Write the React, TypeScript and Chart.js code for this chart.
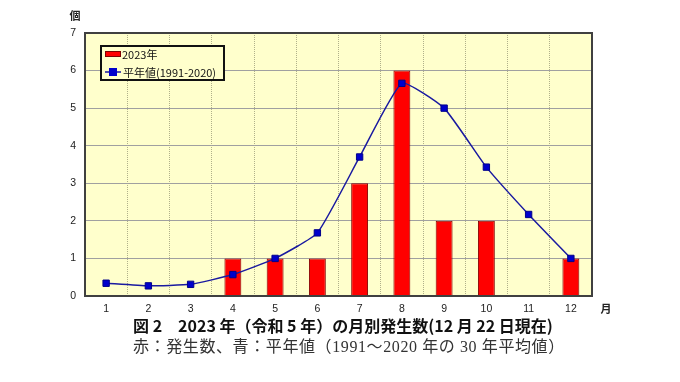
import React, { useEffect, useRef } from "react";
import { Chart, registerables } from "chart.js";

Chart.register(...registerables);

const months = ["1", "2", "3", "4", "5", "6", "7", "8", "9", "10", "11", "12"];
const counts2023 = [0, 0, 0, 1, 1, 1, 3, 6, 2, 2, 0, 1];
const normals = [0.34, 0.27, 0.31, 0.57, 1.0, 1.68, 3.7, 5.66, 5.0, 3.43, 2.17, 1.0];
const yTicks = [0, 1, 2, 3, 4, 5, 6, 7];
const seriesNames = ["2023年", "平年値(1991-2020)"];
const yUnit = "個";
const xUnit = "月";
const titleText = "図 2　2023 年（令和 5 年）の月別発生数(12 月 22 日現在)";
const subtitleText = "赤：発生数、青：平年値（1991〜2020 年の 30 年平均値）";

const tickFont = { family: "'Liberation Sans', Arial, 'Noto Sans CJK JP', sans-serif", size: 10.5 };

const framePlugin = {
  id: "frame",
  beforeDraw(chart: any) {
    const { ctx, chartArea: a } = chart;
    ctx.save();
    ctx.fillStyle = "#FFFFCC";
    ctx.fillRect(a.left, a.top, a.right - a.left, a.bottom - a.top);
    ctx.restore();
  },
  afterDraw(chart: any) {
    const { ctx, chartArea: a } = chart;
    ctx.save();
    ctx.strokeStyle = "#404040";
    ctx.lineWidth = 2;
    ctx.strokeRect(a.left, a.top, a.right - a.left, a.bottom - a.top);
    // unit labels
    ctx.fillStyle = "#222";
    ctx.font = "bold 11px 'Noto Sans CJK JP', sans-serif";
    ctx.textAlign = "center";
    ctx.textBaseline = "middle";
    ctx.fillText(yUnit, a.left - 10, a.top - 17);
    ctx.fillText(xUnit, a.right + 14, a.bottom + 13);
    // legend
    const lx = 101, ly = 46, lw = 123, lh = 34;
    ctx.fillStyle = "#FFFFCC";
    ctx.fillRect(lx, ly, lw, lh);
    ctx.strokeStyle = "#111";
    ctx.lineWidth = 2;
    ctx.strokeRect(lx, ly, lw, lh);
    ctx.font = "11px 'Noto Sans CJK JP', sans-serif";
    ctx.textAlign = "left";
    // bar swatch
    ctx.fillStyle = "#FF0000";
    ctx.fillRect(105, 51, 16, 6);
    ctx.strokeStyle = "#800000";
    ctx.lineWidth = 1;
    ctx.strokeRect(105.5, 51.5, 15, 5);
    ctx.fillStyle = "#111";
    ctx.fillText(seriesNames[0], 122, 54.5);
    // line swatch
    ctx.strokeStyle = "#1a1aa0";
    ctx.lineWidth = 1.5;
    ctx.beginPath();
    ctx.moveTo(105, 72);
    ctx.lineTo(121, 72);
    ctx.stroke();
    ctx.fillStyle = "#0000CC";
    ctx.fillRect(109, 68, 8, 8);
    ctx.fillStyle = "#111";
    ctx.fillText(seriesNames[1], 123, 72.5);
    ctx.restore();
  },
};

export default function App() {
  const ref = useRef<HTMLCanvasElement | null>(null);
  useEffect(() => {
    if (!ref.current) return;
    const chart = new Chart(ref.current, {
      type: "bar",
      data: {
        labels: months,
        datasets: [
          {
            type: "line",
            label: seriesNames[1],
            data: normals,
            borderColor: "#1a1aa0",
            borderWidth: 1.5,
            backgroundColor: "#0000CC",
            pointStyle: "rect",
            pointRadius: 4.5,
            pointBorderColor: "#00008a",
            pointBorderWidth: 1,
            pointBackgroundColor: "#0000CC",
            tension: 0.15,
            order: 0,
          } as any,
          {
            type: "bar",
            label: seriesNames[0],
            data: counts2023,
            backgroundColor: "#FF0000",
            borderColor: "#800000",
            borderWidth: 1,
            barPercentage: 0.4,
            categoryPercentage: 1,
            order: 1,
          },
        ],
      },
      options: {
        animation: false,
        responsive: false,
        maintainAspectRatio: false,
        layout: { padding: { left: 0, top: 33, right: 88, bottom: 56 } },
        plugins: { legend: { display: false }, tooltip: { enabled: false } },
        scales: {
          x: {
            offset: true,
            grid: { offset: true, color: "#b0b08a", lineWidth: 1, drawTicks: false },
            border: { display: false, dash: [1, 1] },
            ticks: { color: "#222", font: tickFont, padding: 7 },
            afterFit(scale: any) {
              scale.height = 30;
            },
          },
          y: {
            min: 0,
            max: 7,
            afterBuildTicks(scale: any) {
              scale.ticks = yTicks.map((v) => ({ value: v }));
            },
            grid: { color: "#a0a0a0", lineWidth: 1, drawTicks: false },
            border: { display: false },
            ticks: { color: "#222", font: tickFont, padding: 9 },
            afterFit(scale: any) {
              scale.width = 85;
            },
          },
        },
      },
      plugins: [framePlugin],
    });
    return () => chart.destroy();
  }, []);

  return (
    <div style={{ position: "fixed", left: 0, top: 0, width: 680, height: 382, background: "#fff" }}>
      <canvas ref={ref} width={680} height={382} style={{ position: "absolute", left: 0, top: 0 }} />
      <div
        style={{
          position: "absolute",
          left: 133,
          top: 315,
          fontFamily: "'Noto Sans CJK JP', sans-serif",
          fontWeight: "bold",
          fontSize: 16,
          lineHeight: "20px",
          color: "#111",
          whiteSpace: "nowrap",
        }}
      >
        {titleText}
      </div>
      <div
        style={{
          position: "absolute",
          left: 133,
          top: 337,
          fontFamily: "'Liberation Serif', 'Noto Sans CJK JP', serif",
          fontSize: 16,
          letterSpacing: "0.6px",
          lineHeight: "20px",
          color: "#333",
          whiteSpace: "nowrap",
        }}
      >
        {subtitleText}
      </div>
    </div>
  );
}
